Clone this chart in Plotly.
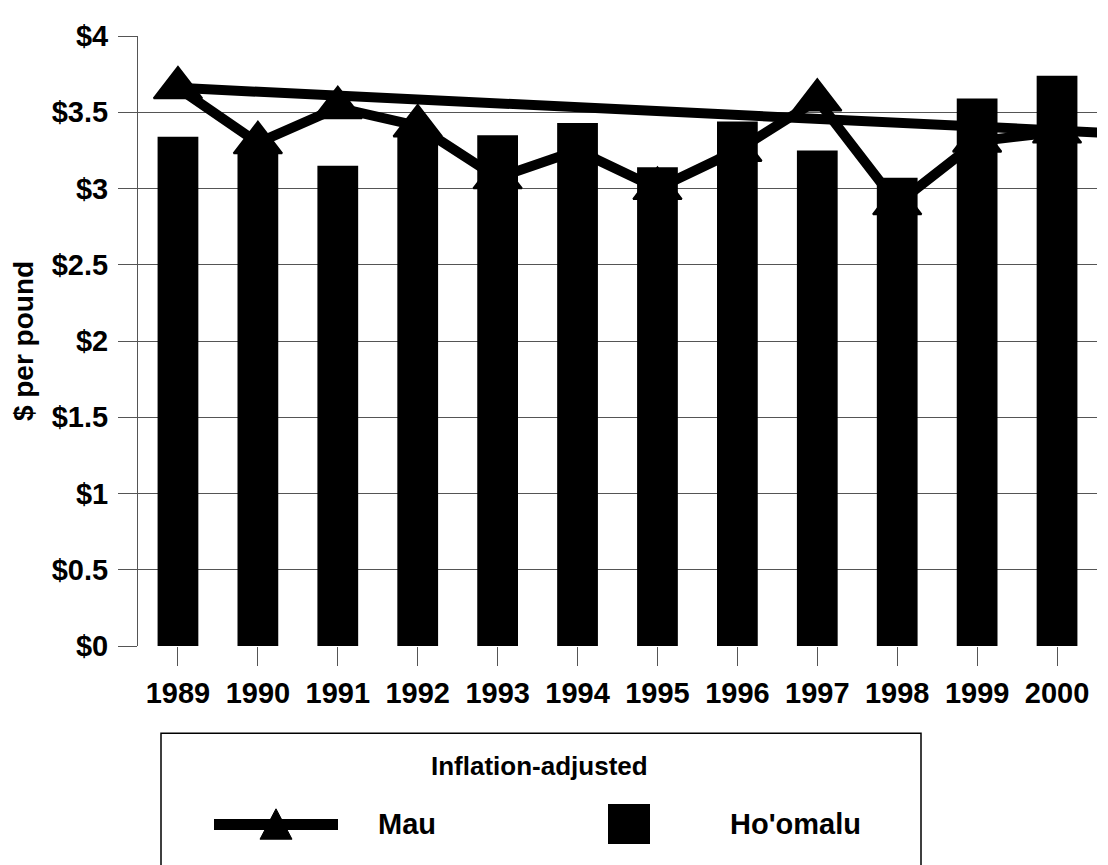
import plotly.graph_objects as go

# ---- data ----
years = [1989, 1990, 1991, 1992, 1993, 1994, 1995, 1996, 1997, 1998, 1999, 2000]
hoomalu = [3.34, 3.25, 3.15, 3.37, 3.35, 3.43, 3.14, 3.44, 3.25, 3.07, 3.59, 3.74]
mau = [3.66, 3.30, 3.53, 3.41, 3.07, 3.25, 3.00, 3.25, 3.58, 2.90, 3.31, 3.37]
trend_years = [1989, 2000.6]
trend_values = [3.66, 3.365]
y_ticks = [0, 0.5, 1, 1.5, 2, 2.5, 3, 3.5, 4]
y_tick_labels = ["$0", "$0.5", "$1", "$1.5", "$2", "$2.5", "$3", "$3.5", "$4"]
legend_title = "Inflation-adjusted"
series_names = ["Mau", "Ho'omalu"]
y_title = "$ per pound"

FONT = "Liberation Sans, Arial, sans-serif"
W, H = 1108, 865
OFF = 8  # page body offset
ML, MT = 138 - OFF, 24 - OFF
PR, PB = 1097 - OFF, 646 - OFF  # right / bottom edge of plot in figure px
MR, MB = W - PR, H - PB
PW = PR - ML
PH = PB - MT


def px(X):
    return (X - OFF - ML) / PW


def py(Y):
    return (PB - (Y - OFF)) / PH


fig = go.Figure()

fig.add_trace(go.Bar(
    x=years, y=hoomalu, name=series_names[1],
    marker=dict(color="black", line=dict(width=0)),
    width=0.51, showlegend=False,
))

fig.add_trace(go.Scatter(
    x=years, y=mau, name=series_names[0], mode="lines+markers",
    line=dict(color="black", width=10),
    marker=dict(symbol="triangle-up", size=42, color="black",
                line=dict(color="black", width=2)),
    showlegend=False, cliponaxis=False,
))

fig.add_trace(go.Scatter(
    x=trend_years, y=trend_values, mode="lines",
    line=dict(color="black", width=10),
    showlegend=False, cliponaxis=False,
))

shapes = []
annotations = []

# legend box
shapes.append(dict(type="rect", xref="paper", yref="paper",
                   x0=px(161), x1=px(921), y0=py(880), y1=py(735),
                   line=dict(color="black", width=1.5), fillcolor="rgba(0,0,0,0)"))
# Mau legend symbol
shapes.append(dict(type="line", xref="paper", yref="paper",
                   x0=px(214), x1=px(338), y0=py(828), y1=py(828),
                   line=dict(color="black", width=11)))
shapes.append(dict(type="path", xref="paper", yref="paper",
                   path="M %f,%f L %f,%f L %f,%f Z" % (px(276), py(812), px(260), py(843), px(292), py(843)),
                   fillcolor="black", line=dict(color="black", width=1)))
# Ho'omalu legend symbol
shapes.append(dict(type="rect", xref="paper", yref="paper",
                   x0=px(608), x1=px(650), y0=py(848), y1=py(807),
                   fillcolor="black", line=dict(width=0)))

annotations.append(dict(text=legend_title, xref="paper", yref="paper",
                        x=px(539), y=py(768), showarrow=False,
                        xanchor="center", yanchor="middle",
                        font=dict(family=FONT, size=26, color="black", weight="bold")))
annotations.append(dict(text=series_names[0], xref="paper", yref="paper",
                        x=px(376), y=py(828), showarrow=False,
                        xanchor="left", yanchor="middle",
                        font=dict(family=FONT, size=29, color="black", weight="bold")))
annotations.append(dict(text=series_names[1], xref="paper", yref="paper",
                        x=px(728), y=py(828), showarrow=False,
                        xanchor="left", yanchor="middle",
                        font=dict(family=FONT, size=29, color="black", weight="bold")))

fig.update_layout(
    width=W, height=H,
    margin=dict(l=ML, r=MR, t=MT, b=MB, pad=0),
    paper_bgcolor="white", plot_bgcolor="white",
    font=dict(family=FONT, color="black"),
    shapes=shapes, annotations=annotations,
    showlegend=False,
    bargap=0.49,
)

fig.update_xaxes(
    range=[1988.5, 2000.5],
    tickmode="array", tickvals=years, ticktext=[str(y) for y in years],
    ticks="outside", ticklen=19, tickwidth=1, tickcolor="#555555",
    showgrid=False, zeroline=False,
    showline=False,
    tickfont=dict(family=FONT, size=29, color="black", weight="bold"),
    ticklabelstandoff=2,
)

fig.update_yaxes(
    range=[0, 4],
    tickmode="array", tickvals=y_ticks, ticktext=y_tick_labels,
    ticks="outside", ticklen=19, tickwidth=1, tickcolor="#555555",
    showgrid=True, gridcolor="#555555", gridwidth=1,
    zeroline=False,
    showline=True, linecolor="#555555", linewidth=1,
    tickfont=dict(family=FONT, size=29, color="black", weight="bold"),
    ticklabelstandoff=4,
    title=dict(text=y_title, font=dict(family=FONT, size=28, color="black", weight="bold"), standoff=11),
)

fig.write_html("out.html")
